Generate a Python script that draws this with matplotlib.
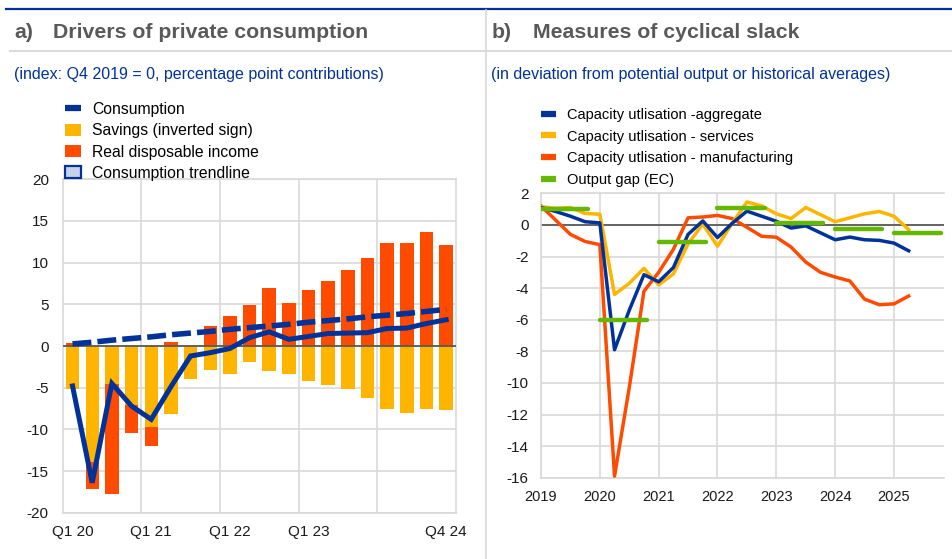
import matplotlib
matplotlib.use('Agg')
import matplotlib.pyplot as plt
from matplotlib.lines import Line2D
from matplotlib.patches import Patch
import numpy as np
import pandas as pd

plt.rcParams['font.family'] = ['Liberation Sans', 'DejaVu Sans']
plt.rcParams['axes.unicode_minus'] = False

BLUE = '#003299'
YELLOW = '#FFB400'
ORANGE = '#FF4B00'
GREEN = '#65B800'
GRID = '#d9d9d9'
TITLE = '#595959'

# panel a) drivers of private consumption
quarters = ['Q1 20', 'Q2 20', 'Q3 20', 'Q4 20', 'Q1 21', 'Q2 21', 'Q3 21', 'Q4 21',
            'Q1 22', 'Q2 22', 'Q3 22', 'Q4 22', 'Q1 23', 'Q2 23', 'Q3 23', 'Q4 23',
            'Q1 24', 'Q2 24', 'Q3 24', 'Q4 24']
shown_quarters = ['Q1 20', 'Q1 21', 'Q1 22', 'Q1 23', 'Q4 24']
consumption = [-4.8, -16.4, -4.5, -7.2, -8.8, -4.9, -1.2, -0.8, -0.3, 1.0,
               1.7, 0.8, 1.15, 1.5, 1.55, 1.6, 2.1, 2.15, 2.7, 3.15]
savings = [-5.1, -13.9, -4.6, -7.1, -9.7, -8.2, -4.0, -2.9, -3.4, -1.95,
           -3.05, -3.4, -4.2, -4.7, -5.2, -6.2, -7.5, -8.0, -7.6, -7.7]
income = [0.3, -3.3, -13.2, -3.3, -2.3, 0.5, 0.0, 2.45, 3.65, 4.95,
          6.95, 5.2, 6.75, 7.8, 9.15, 10.6, 12.3, 12.35, 13.7, 12.1]
trend = [0.25, 0.45, 0.7, 0.9, 1.1, 1.35, 1.55, 1.75, 2.0, 2.2,
         2.4, 2.6, 2.85, 3.05, 3.25, 3.5, 3.7, 3.9, 4.15, 4.4]

# panel b) measures of cyclical slack (quarterly, 2019Q1-2025Q2)
cu_periods = pd.period_range('2019Q1', '2025Q2', freq='Q')
cu_aggregate = [1.1, 0.85, 0.55, 0.2, 0.13, -7.9, -5.4, -3.15, -3.6, -2.7, -0.6, 0.25,
                -0.8, 0.1, 0.87, 0.55, 0.23, -0.2, -0.06, -0.5, -0.94, -0.77, -0.94, -0.98,
                -1.15, -1.64]
cu_services = [1.15, 1.05, 1.1, 0.72, 0.68, -4.4, -3.7, -2.75, -3.8, -3.1, -1.2, 0.05,
               -1.35, 0.1, 1.45, 1.2, 0.7, 0.4, 1.1, 0.65, 0.2, 0.45, 0.7, 0.85,
               0.55, -0.3]
cu_manufacturing = [1.2, 0.3, -0.6, -1.05, -1.25, -15.9, -10.3, -4.2, -3.0, -1.55, 0.45, 0.5,
                    0.6, 0.4, -0.15, -0.72, -0.78, -1.4, -2.35, -3.0, -3.3, -3.55, -4.7, -5.05,
                    -5.0, -4.5]
gap_years = [2019, 2020, 2021, 2022, 2023, 2024, 2025]
output_gap = [1.0, -6.0, -1.1, 1.05, 0.13, -0.27, -0.52]

W, H = 952, 559
fig = plt.figure(figsize=(W / 100, H / 100), dpi=100)


def fx(x):
    return x / W


def fy(y):
    return 1 - y / H


# frame lines of the layout
fig.add_artist(Line2D([fx(6), 1], [fy(9), fy(9)], color=BLUE, lw=1.6))
fig.add_artist(Line2D([fx(10), 1], [fy(50.7), fy(50.7)], color=GRID, lw=1.4))
fig.add_artist(Line2D([fx(485.7), fx(485.7)], [fy(10), 0], color=GRID, lw=1.2))

fig.text(fx(14), fy(38), 'a)', fontsize=15.3, fontweight='bold', color=TITLE, va='baseline')
fig.text(fx(53), fy(38), 'Drivers of private consumption', fontsize=15.3, fontweight='bold',
         color=TITLE, va='baseline')
fig.text(fx(491.7), fy(38), 'b)', fontsize=15.3, fontweight='bold', color=TITLE, va='baseline')
fig.text(fx(532.7), fy(38), 'Measures of cyclical slack', fontsize=15.3, fontweight='bold',
         color=TITLE, va='baseline')
fig.text(fx(14), fy(79), '(index: Q4 2019 = 0, percentage point contributions)',
         fontsize=11.5, color=BLUE, va='baseline')
fig.text(fx(490.7), fy(79), '(in deviation from potential output or historical averages)',
         fontsize=11.5, color=BLUE, va='baseline')

# ---- left panel
ax1 = fig.add_axes([fx(62.7), fy(512.7), fx(456) - fx(62.7), fy(179.3) - fy(512.7)])
x = np.arange(len(quarters))
sav = np.array(savings)
inc = np.array(income)
ax1.bar(x, sav, width=0.68, color=YELLOW, zorder=2)
ax1.bar(x, inc, width=0.68, bottom=np.where(inc < 0, sav, 0), color=ORANGE, zorder=2)
ax1.axhline(0, color='#595959', lw=1.3, zorder=3)
ax1.plot(x, trend, color=BLUE, lw=4, dashes=(3.4, 1.1), dash_capstyle='butt', zorder=4)
ax1.plot(x, consumption, color=BLUE, lw=3.6, solid_joinstyle='miter', zorder=5)

ax1.set_xlim(-0.5, len(quarters) - 0.5)
ax1.set_ylim(-20, 20)
ax1.set_yticks(range(-20, 21, 5))
ax1.set_xticks([quarters.index(q) for q in shown_quarters])
ax1.set_xticklabels(shown_quarters)
ax1.set_xticks([3.5, 7.5, 11.5, 15.5], minor=True)
ax1.grid(axis='y', which='major', color=GRID, lw=1.2, zorder=0)
ax1.grid(axis='x', which='minor', color=GRID, lw=1.2, zorder=0)
ax1.tick_params(which='both', length=0, labelsize=11, colors='#1a1a1a')
ax1.tick_params(axis='y', pad=10)
ax1.tick_params(axis='x', pad=9)
for s in ax1.spines.values():
    s.set_color(GRID)
    s.set_linewidth(1.2)
ax1.set_axisbelow(True)

h1 = [Line2D([], [], color=BLUE, lw=4.5, solid_capstyle='butt'),
      Patch(facecolor=YELLOW),
      Patch(facecolor=ORANGE),
      Patch(facecolor='#c5d2ea', edgecolor=BLUE, lw=1.6)]
l1 = ['Consumption', 'Savings (inverted sign)', 'Real disposable income', 'Consumption trendline']
fig.legend(h1, l1, loc='upper left', bbox_to_anchor=(fx(65), fy(102)), frameon=False,
           fontsize=11.3, handlelength=1.05, handleheight=0.8, handletextpad=0.7,
           labelspacing=0.40, borderpad=0, borderaxespad=0)

# ---- right panel
ax2 = fig.add_axes([fx(541), fy(477.7), fx(944) - fx(541), fy(193.3) - fy(477.7)])
t = np.array([p.year + (p.quarter - 1) / 4 for p in cu_periods])
ax2.axhline(0, color='#595959', lw=1.3, zorder=2)
ax2.plot(t, cu_aggregate, color=BLUE, lw=2.5, zorder=5)
ax2.plot(t, cu_services, color=YELLOW, lw=2.5, zorder=4)
ax2.plot(t, cu_manufacturing, color=ORANGE, lw=2.5, zorder=3)
gy = np.array(gap_years)
ax2.hlines(output_gap, gy, gy + 0.8, color=GREEN, lw=3.2, capstyle='round', zorder=6)

ax2.set_xlim(2019, 2025.85)
ax2.set_ylim(-16, 2)
ax2.set_yticks(range(-16, 3, 2))
ax2.set_xticks(gap_years)
ax2.grid(True, color=GRID, lw=1.2, zorder=0)
ax2.tick_params(length=0, labelsize=11, colors='#1a1a1a')
ax2.tick_params(axis='x', labelsize=10.5, pad=9)
ax2.tick_params(axis='y', pad=9)
for s in ax2.spines.values():
    s.set_color(GRID)
    s.set_linewidth(1.2)
ax2.spines['right'].set_visible(False)
ax2.set_axisbelow(True)

h2 = [Line2D([], [], color=c, lw=4.5, solid_capstyle='butt') for c in (BLUE, YELLOW, ORANGE, GREEN)]
l2 = ['Capacity utlisation -aggregate', 'Capacity utlisation - services',
      'Capacity utlisation - manufacturing', 'Output gap (EC)']
fig.legend(h2, l2, loc='upper left', bbox_to_anchor=(fx(541), fy(108)), frameon=False,
           fontsize=10.5, handlelength=1.05, handletextpad=0.7,
           labelspacing=0.52, borderpad=0, borderaxespad=0)

fig.savefig('out.png', dpi=100)
